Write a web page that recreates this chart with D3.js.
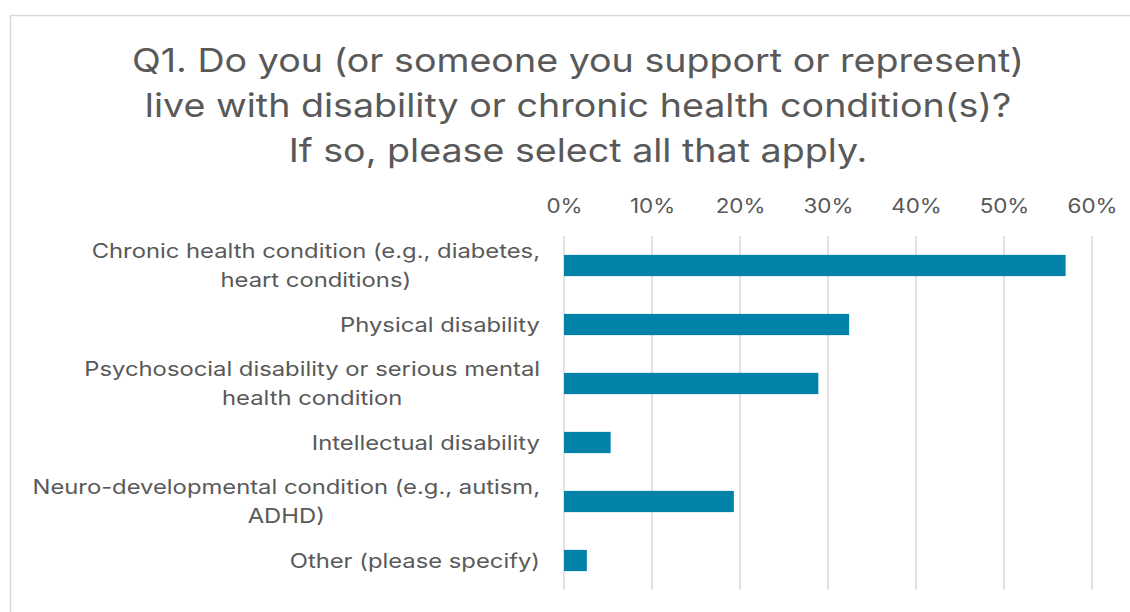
<!DOCTYPE html>
<html>
<head>
<meta charset="utf-8">
<script src="https://cdn.jsdelivr.net/npm/d3@7"></script>
<style>
  html, body { margin: 0; padding: 0; background: #ffffff; }
  svg { display: block; font-family: Inter, "Open Sans", sans-serif; }
</style>
</head>
<body>
<svg id="chart" width="1130" height="612"></svg>
<script>
// Survey responses, share of respondents per condition
const titleLines = [
  "Q1. Do you (or someone you support or represent)",
  "live with disability or chronic health condition(s)?",
  "If so, please select all that apply."
];
const categories = [
  "Chronic health condition (e.g., diabetes,\nheart conditions)",
  "Physical disability",
  "Psychosocial disability or serious mental\nhealth condition",
  "Intellectual disability",
  "Neuro-developmental condition (e.g., autism,\nADHD)",
  "Other (please specify)"
];
const values = [0.570, 0.324, 0.289, 0.053, 0.193, 0.026];
const tickValues = [0, 0.1, 0.2, 0.3, 0.4, 0.5, 0.6];

const svg = d3.select("#chart");
const textColor = "#595959";
const gridColor = "#d9d9d9";
const barColor = "#0282a8";
// the typeface is set slightly wide
const titleStretch = 1.14, labelStretch = 1.19, tickStretch = 1.12;

// chart frame
svg.append("rect")
  .attr("x", 10.5).attr("y", 15.5)
  .attr("width", 1140).attr("height", 620)
  .attr("fill", "#ffffff")
  .attr("stroke", gridColor)
  .attr("stroke-width", 1.5);

// title
svg.append("g").selectAll("text")
  .data(titleLines)
  .join("text")
  .attr("transform", (d, i) => `translate(578, ${72 + i * 45}) scale(${titleStretch}, 1)`)
  .attr("text-anchor", "middle")
  .attr("fill", textColor)
  .attr("font-size", 33)
  .text(d => d);

const plot = { left: 564, right: 1092, top: 236, bottom: 590 };

const x = d3.scaleLinear().domain([0, 0.6]).range([plot.left, plot.right]);
const y = d3.scaleBand()
  .domain(categories)
  .range([plot.top, plot.bottom])
  .paddingInner(0.64)
  .paddingOuter(0.32);

// top axis with percentage labels
const xAxis = d3.axisTop(x)
  .tickValues(tickValues)
  .tickFormat(d3.format(".0%"))
  .tickSize(0)
  .tickPadding(0);

svg.append("g")
  .attr("transform", `translate(0, 213)`)
  .call(xAxis)
  .call(g => g.select(".domain").remove())
  .call(g => g.selectAll("text")
    .attr("fill", textColor)
    .attr("font-size", 20)
    .attr("font-family", "Inter, 'Open Sans', sans-serif")
    .attr("dy", 0)
    .attr("transform", `scale(${tickStretch}, 1)`));

// vertical gridlines
svg.append("g").selectAll("line")
  .data(tickValues)
  .join("line")
  .attr("x1", d => x(d)).attr("x2", d => x(d))
  .attr("y1", plot.top).attr("y2", plot.bottom)
  .attr("stroke", gridColor)
  .attr("stroke-width", 1.5);

// bars
svg.append("g").selectAll("rect")
  .data(values)
  .join("rect")
  .attr("x", x(0))
  .attr("y", (d, i) => y(categories[i]))
  .attr("width", d => x(d) - x(0))
  .attr("height", y.bandwidth())
  .attr("fill", barColor);

// category labels: block right aligned to the axis, lines centred in the block
const lineHeight = 29;
const labelGroups = svg.append("g").selectAll("g")
  .data(categories)
  .join("g")
  .attr("transform", d => `translate(540, ${y(d) + y.bandwidth() / 2}) scale(${labelStretch}, 1)`);

labelGroups.each(function (d) {
  const lines = d.split("\n");
  const g = d3.select(this);
  const first = -(lines.length - 1) * lineHeight / 2;
  const texts = g.selectAll("text")
    .data(lines)
    .join("text")
    .attr("fill", textColor)
    .attr("font-size", 20)
    .attr("text-anchor", "middle")
    .attr("y", (l, i) => first + i * lineHeight)
    .attr("dy", "0.35em")
    .text(l => l);
  let maxW = 0;
  texts.each(function () { maxW = Math.max(maxW, this.getComputedTextLength()); });
  texts.attr("x", -maxW / 2);
});
</script>
</body>
</html>
